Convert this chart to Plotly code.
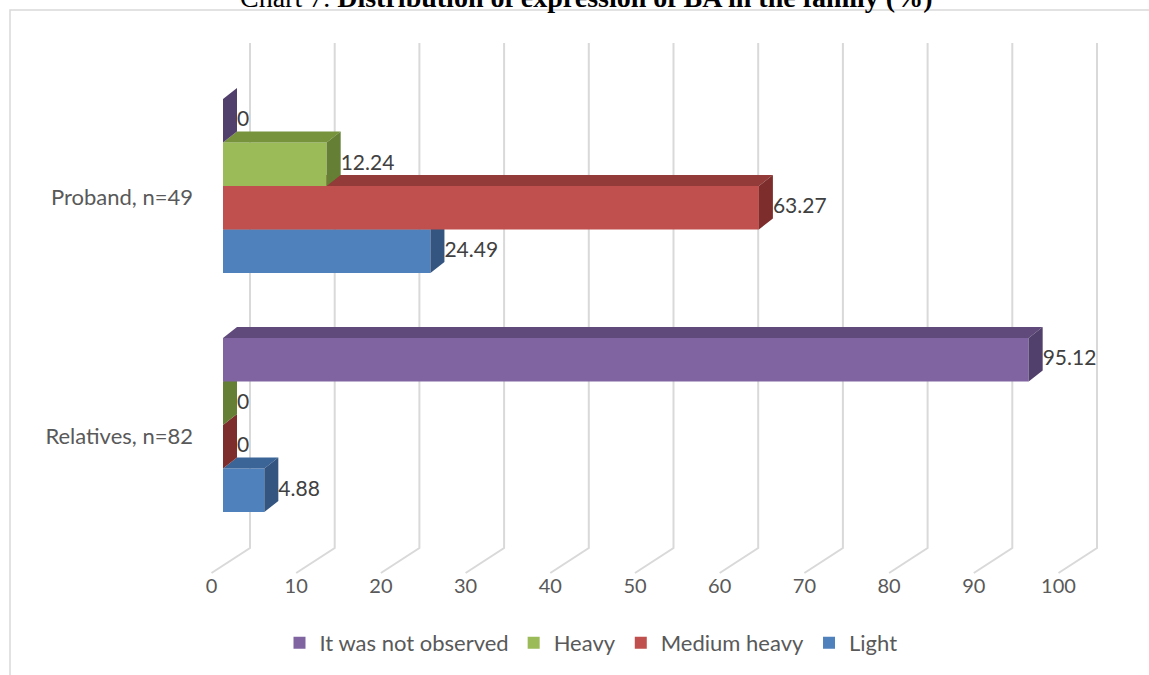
import plotly.graph_objects as go

# ---- data -------------------------------------------------------------
categories = ["Proband, n=49", "Relatives, n=82"]
series_names = ["Light", "Medium heavy", "Heavy", "It was not observed"]
light = [24.49, 4.88]
medium_heavy = [63.27, 0]
heavy = [12.24, 0]
not_observed = [0, 95.12]
tick_values = list(range(0, 101, 10))
title_text = "Chart 7. <b>Distribution of expression of BA in the family (%)</b>"

series_values = [light, medium_heavy, heavy, not_observed]
front_colors = ["#4F81BD", "#C0504D", "#9BBB59", "#8064A2"]
top_colors = ["#3B6497", "#933B39", "#77933C", "#604A7B"]
side_colors = ["#335580", "#7D2E2C", "#657F35", "#51406B"]

# ---- geometry ----------------------------------------------------------
W, H = 1149, 675
PL, PR, PT, PB = 200, 1149, 35, 575          # plot area (px)
X0_PX, PX_PER_UNIT = 223.0, 8.47             # value scale on the bars' front plane
Y1_PX, PX_PER_CAT = 186.0, 239.0             # category scale (Proband=1, Relatives=0)
CAT_Y = [1, 0]

x_range = [(PL - X0_PX) / PX_PER_UNIT, (PR - X0_PX) / PX_PER_UNIT]
y_range = [1 - (PB - Y1_PX) / PX_PER_CAT, 1 + (Y1_PX - PT) / PX_PER_CAT]

BAR_W = 43.5 / PX_PER_CAT                    # bar thickness
DEPTH_DX = 14 / PX_PER_UNIT                  # oblique depth of a bar
DEPTH_DY = 11 / PX_PER_CAT
WALL_DX = 27 / PX_PER_UNIT                   # back wall shift
FLOOR_DX = -11.5 / PX_PER_UNIT               # front edge of the floor
WALL_TOP = 1 + (Y1_PX - 43) / PX_PER_CAT
WALL_BOTTOM = 1 - (548 - Y1_PX) / PX_PER_CAT
FLOOR_FRONT = 1 - (573 - Y1_PX) / PX_PER_CAT
LABEL_DY = 11 / PX_PER_CAT
TICK_AXIS_PX = 570                            # where the value tick labels hang from

TEXT_FONT = "Lato, 'Open Sans', sans-serif"
GRID = "#D9D9D9"

fig = go.Figure()

for k, (name, vals) in enumerate(zip(series_names, series_values)):
    suf = "" if k == 0 else str(k + 1)
    xa, ya = "x" + suf, "y" + suf
    off = (k - 2) * BAR_W
    # front faces
    fig.add_trace(go.Bar(
        x=vals, y=CAT_Y, orientation="h", width=BAR_W, offset=off,
        marker=dict(color=front_colors[k], line=dict(width=0)),
        name=name, xaxis=xa, yaxis=ya, hoverinfo="skip"))
    # top and side faces of each bar
    tx, ty, sx, sy = [], [], [], []
    for v, c in zip(vals, CAT_Y):
        yb, yt = c + off, c + off + BAR_W
        tx += [0, v, v + DEPTH_DX, DEPTH_DX, 0, None]
        ty += [yt, yt, yt + DEPTH_DY, yt + DEPTH_DY, yt, None]
        sx += [v, v + DEPTH_DX, v + DEPTH_DX, v, v, None]
        sy += [yt, yt + DEPTH_DY, yb + DEPTH_DY, yb, yt, None]
    for px_, py_, col in ((tx, ty, top_colors[k]), (sx, sy, side_colors[k])):
        fig.add_trace(go.Scatter(
            x=px_, y=py_, mode="lines", fill="toself", fillcolor=col,
            line=dict(width=0, color=col), showlegend=False,
            xaxis=xa, yaxis=ya, hoverinfo="skip"))

# value labels
lx, ly, lt = [], [], []
for k, vals in enumerate(series_values):
    off = (k - 2) * BAR_W
    for v, c in zip(vals, CAT_Y):
        lx.append(v + DEPTH_DX)
        ly.append(c + off + BAR_W / 2)
        lt.append(f"{v:g}")
fig.add_trace(go.Scatter(
    x=lx, y=ly, text=lt, mode="text", textposition="middle right",
    textfont=dict(family=TEXT_FONT, size=21, color="#404040"),
    showlegend=False, xaxis="x4", yaxis="y4", hoverinfo="skip", cliponaxis=False))

# back wall gridlines running onto the floor
shapes = []
for v in tick_values:
    xb, xf = v + WALL_DX, v + FLOOR_DX
    shapes.append(dict(
        type="path", xref="x", yref="y", layer="below",
        path=f"M {xb} {WALL_TOP} L {xb} {WALL_BOTTOM} L {xf} {FLOOR_FRONT}",
        line=dict(color=GRID, width=2)))
# chart area border
bx, by = 10 / W, 1 - 10 / H
shapes.append(dict(type="path", xref="paper", yref="paper",
                   path=f"M {bx} 0 L {bx} {by} L 1 {by}",
                   line=dict(color=GRID, width=1.5)))

dom_x = [PL / W, PR / W]
dom_y = [1 - PB / H, 1 - PT / H]
layout = dict(
    width=W, height=H, margin=dict(l=0, r=0, t=0, b=0),
    paper_bgcolor="white", plot_bgcolor="rgba(0,0,0,0)",
    barmode="overlay", shapes=shapes, showlegend=True,
    xaxis=dict(domain=dom_x, range=x_range, showgrid=False, zeroline=False,
               showline=False, ticks="", tickmode="array",
               anchor="free", position=1 - TICK_AXIS_PX / H,
               tickvals=[v + FLOOR_DX for v in tick_values],
               ticktext=[str(v) for v in tick_values],
               tickfont=dict(family=TEXT_FONT, size=20, color="#595959"),
               ticklabelstandoff=2, fixedrange=True),
    yaxis=dict(domain=dom_y, range=y_range, showgrid=False, zeroline=False,
               showline=False, ticks="", tickmode="array",
               tickvals=[c - LABEL_DY for c in CAT_Y], ticktext=categories,
               tickfont=dict(family=TEXT_FONT, size=22, color="#595959"),
               ticklabelstandoff=6, fixedrange=True),
    legend=dict(orientation="h", traceorder="reversed", x=591 / W, xanchor="center",
                y=1 - 643 / H, yanchor="middle",
                font=dict(family=TEXT_FONT, size=22, color="#595959")),
    annotations=[dict(text=title_text, xref="paper", yref="paper",
                      x=586 / W, y=1 + 2.5 / H, xanchor="center", yanchor="middle",
                      showarrow=False,
                      font=dict(family="Liberation Serif", size=28, color="black"))],
)
for k in range(2, 5):
    layout[f"xaxis{k}"] = dict(overlaying="x", range=x_range, visible=False, fixedrange=True)
    layout[f"yaxis{k}"] = dict(overlaying="y", range=y_range, visible=False, fixedrange=True)
fig.update_layout(**layout)

fig.write_html("out.html")
